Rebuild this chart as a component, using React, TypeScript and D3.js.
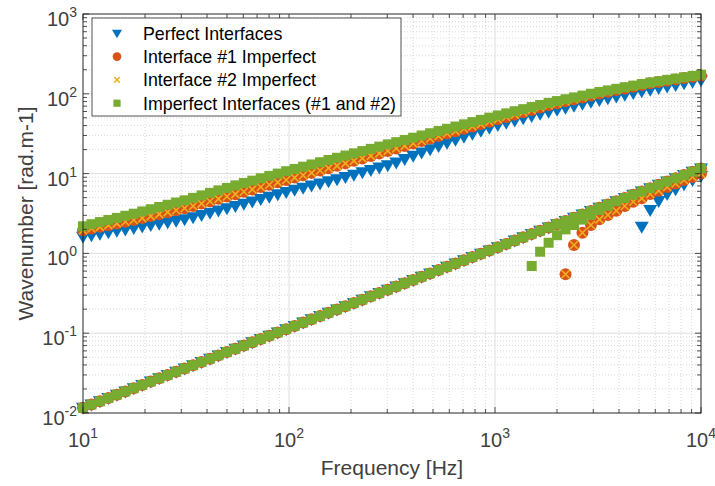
import { useEffect, useRef } from 'react';
import * as d3 from 'd3';

// frequency grid [Hz], log spaced
const freqs = [
  10.0, 10.99, 12.08, 13.28, 14.6, 16.05, 17.64, 19.39, 21.32, 23.44,
  25.76, 28.32, 31.13, 34.22, 37.62, 41.35, 45.46, 49.97, 54.93, 60.38,
  66.38, 72.96, 80.21, 88.17, 96.9, 106.5, 117.1, 128.7, 141.5, 155.5,
  171.0, 187.9, 206.6, 227.1, 249.6, 274.4, 301.6, 331.6, 364.5, 400.7,
  440.4, 484.1, 532.2, 585.0, 643.0, 706.8, 777.0, 854.1, 938.9, 1032,
  1134, 1247, 1371, 1507, 1656, 1821, 2001, 2200, 2418, 2658,
  2922, 3212, 3531, 3881, 4267, 4690, 5156, 5667, 6230, 6848,
  7528, 8275, 9097, 10000,
];

// upper branch, wavenumber [rad/m]
const perfectUpper = [
  1.622, 1.691, 1.763, 1.838, 1.916, 1.997, 2.082, 2.171, 2.263, 2.359,
  2.459, 2.564, 2.673, 2.84, 3.028, 3.23, 3.444, 3.674, 3.917, 4.19,
  4.485, 4.801, 5.14, 5.503, 5.89, 6.273, 6.665, 7.081, 7.522, 7.991,
  8.492, 9.064, 9.703, 10.38, 11.12, 11.9, 12.74, 13.82, 15.19, 16.7,
  18.36, 20.18, 22.18, 24.31, 26.53, 28.93, 31.56, 34.43, 37.57, 40.68,
  43.39, 46.26, 49.33, 52.61, 56.1, 59.72, 63.22, 66.91, 70.81, 74.95,
  79.35, 83.86, 88.09, 92.54, 97.21, 102.1, 107.3, 112.6, 117.9, 123.4,
  129.1, 135.1, 141.3, 147.9,
];

const imperfect1Upper = [
  1.95, 2.048, 2.151, 2.26, 2.374, 2.494, 2.62, 2.771, 2.933, 3.104,
  3.286, 3.477, 3.681, 3.933, 4.21, 4.507, 4.824, 5.164, 5.528, 5.918,
  6.335, 6.783, 7.261, 7.771, 8.321, 8.906, 9.535, 10.21, 10.93, 11.7,
  12.52, 13.43, 14.44, 15.51, 16.67, 17.91, 19.24, 20.69, 22.23, 23.88,
  25.66, 27.57, 29.64, 31.79, 34.03, 36.43, 39.01, 41.76, 44.71, 47.86,
  51.23, 54.83, 58.71, 62.84, 67.29, 71.81, 75.99, 80.43, 85.13, 90.11,
  95.39, 100.8, 105.9, 111.2, 116.9, 122.7, 128.9, 135.3, 140.5, 146.0,
  151.6, 157.4, 163.6, 169.8,
];

const imperfectBothUpper = [
  2.188, 2.325, 2.47, 2.624, 2.788, 2.961, 3.146, 3.355, 3.578, 3.815,
  4.069, 4.339, 4.628, 4.966, 5.337, 5.734, 6.163, 6.622, 7.116, 7.623,
  8.164, 8.738, 9.354, 10.01, 10.72, 11.44, 12.21, 13.02, 13.88, 14.81,
  15.79, 16.84, 17.96, 19.15, 20.42, 21.78, 23.23, 24.77, 26.42, 28.18,
  30.05, 32.04, 34.17, 36.44, 38.87, 41.45, 44.2, 47.13, 50.28, 53.56,
  56.89, 60.45, 64.21, 68.23, 72.5, 76.88, 81.06, 85.46, 90.11, 95.02,
  100.2, 105.5, 110.4, 115.5, 120.9, 126.6, 132.4, 138.5, 143.8, 149.4,
  155.1, 161.1, 167.4, 173.8,
];

// lower branch (same for every configuration)
const lowerBranch = [
  0.0116, 0.01275, 0.01401, 0.0154, 0.01694, 0.01862, 0.02046, 0.02249, 0.02473, 0.02719,
  0.02988, 0.03285, 0.03611, 0.0397, 0.04364, 0.04797, 0.05273, 0.05797, 0.06372, 0.07004,
  0.077, 0.08463, 0.09304, 0.1023, 0.1124, 0.1235, 0.1358, 0.1493, 0.1641, 0.1804,
  0.1984, 0.218, 0.2397, 0.2634, 0.2895, 0.3183, 0.3499, 0.3847, 0.4228, 0.4648,
  0.5109, 0.5616, 0.6174, 0.6786, 0.7459, 0.8199, 0.9013, 0.9908, 1.089, 1.197,
  1.315, 1.447, 1.59, 1.748, 1.921, 2.112, 2.321, 2.552, 2.805, 3.083,
  3.39, 3.726, 4.096, 4.502, 4.95, 5.44, 5.981, 6.574, 7.227, 7.944,
  8.732, 9.599, 10.55, 11.6,
];

// cut-on branches (start index in freqs + values)
const perfectCutOnStart = 66;
const perfectCutOn = [2.163, 3.499, 4.536, 5.546, 6.355, 7.345, 8.318, 9.333];

const imperfect1CutOnStart = 57;
const imperfect1CutOn = [
  0.547, 1.274, 1.816, 2.27, 2.673, 3.027, 3.428, 3.926, 4.446, 4.898,
  5.546, 6.109, 6.792, 7.516, 8.318, 9.057, 10.02,
];

const imperfectBothCutOnStart = 53;
const imperfectBothCutOn = [0.695, 1.05, 1.36, 1.69, 2.0, 2.27, 2.65, 3.05, 3.5, 3.95];

const legendLabels = [
  'Perfect Interfaces',
  'Interface #1 Imperfect',
  'Interface #2 Imperfect',
  'Imperfect Interfaces (#1 and #2)',
];

const xDecades = [1, 2, 3, 4];
const yDecades = [-2, -1, 0, 1, 2, 3];

const BLUE = '#0072BD';
const ORANGE = '#D95319';
const YELLOW = '#EDB120';
const GREEN = '#77AC30';
const AXIS = '#262626';

type Kind = 'tri' | 'circle' | 'x' | 'square';

export default function App() {
  const svgRef = useRef<SVGSVGElement>(null);

  useEffect(() => {
    if (!svgRef.current) return;
    const W = 715;
    const H = 486;
    const margin = { left: 83, right: 14, top: 14, bottom: 73 };

    const svg = d3.select(svgRef.current);
    svg.selectAll('*').remove();
    svg.attr('width', W).attr('height', H);

    const x = d3.scaleLog().domain([10, 1e4]).range([margin.left, W - margin.right]);
    const y = d3.scaleLog().domain([1e-2, 1e3]).range([H - margin.bottom, margin.top]);
    const [x0, x1] = x.range();
    const [y0, y1] = y.range(); // y0 bottom, y1 top

    svg.append('rect').attr('width', W).attr('height', H).attr('fill', '#fff');

    const minorX: number[] = [];
    xDecades.slice(0, -1).forEach((d) => {
      for (let m = 2; m <= 9; m++) minorX.push(m * Math.pow(10, d));
    });
    const minorY: number[] = [];
    yDecades.slice(0, -1).forEach((d) => {
      for (let m = 2; m <= 9; m++) minorY.push(m * Math.pow(10, d));
    });
    const majorX = xDecades.map((d) => Math.pow(10, d));
    const majorY = yDecades.map((d) => Math.pow(10, d));

    // Grid
    const grid = svg.append('g');
    grid.selectAll('.mgx').data(minorX).join('line')
      .attr('x1', (d) => x(d)).attr('x2', (d) => x(d))
      .attr('y1', y0).attr('y2', y1)
      .attr('stroke', '#c8c8c8').attr('stroke-width', 0.7).attr('stroke-dasharray', '1,2');
    grid.selectAll('.mgy').data(minorY).join('line')
      .attr('x1', x0).attr('x2', x1)
      .attr('y1', (d) => y(d)).attr('y2', (d) => y(d))
      .attr('stroke', '#c8c8c8').attr('stroke-width', 0.7).attr('stroke-dasharray', '1,2');
    grid.selectAll('.gx').data(majorX.slice(1, -1)).join('line')
      .attr('x1', (d) => x(d)).attr('x2', (d) => x(d))
      .attr('y1', y0).attr('y2', y1)
      .attr('stroke', '#dedede').attr('stroke-width', 1);
    grid.selectAll('.gy').data(majorY.slice(1, -1)).join('line')
      .attr('x1', x0).attr('x2', x1)
      .attr('y1', (d) => y(d)).attr('y2', (d) => y(d))
      .attr('stroke', '#dedede').attr('stroke-width', 1);

    // Markers
    const marks = svg.append('g');
    const drawSeries = (xs: number[], ys: number[], kind: Kind, color: string) => {
      const pts = xs.map((f, i) => [x(f), y(ys[i])] as [number, number]);
      const sel = marks.append('g').selectAll('g').data(pts).join('g')
        .attr('transform', (p) => `translate(${p[0]},${p[1]})`);
      addMarker(sel, kind, color, 1);
    };

    const series: { kind: Kind; color: string; upper: number[]; cut: number[]; start: number }[] = [
      { kind: 'tri', color: BLUE, upper: perfectUpper, cut: perfectCutOn, start: perfectCutOnStart },
      { kind: 'circle', color: ORANGE, upper: imperfect1Upper, cut: imperfect1CutOn, start: imperfect1CutOnStart },
      { kind: 'x', color: YELLOW, upper: imperfect1Upper, cut: imperfect1CutOn, start: imperfect1CutOnStart },
      { kind: 'square', color: GREEN, upper: imperfectBothUpper, cut: imperfectBothCutOn, start: imperfectBothCutOnStart },
    ];
    series.forEach((s) => {
      drawSeries(freqs, s.upper, s.kind, s.color);
      drawSeries(freqs, lowerBranch, s.kind, s.color);
      drawSeries(freqs.slice(s.start, s.start + s.cut.length), s.cut, s.kind, s.color);
    });

    // Axes box and ticks
    const ax = svg.append('g');
    ax.append('rect')
      .attr('x', x0).attr('y', y1).attr('width', x1 - x0).attr('height', y0 - y1)
      .attr('fill', 'none').attr('stroke', AXIS).attr('stroke-width', 1);
    const tick = (vals: number[], len: number) => {
      vals.forEach((v) => {
        const px = x(v);
        ax.append('line').attr('x1', px).attr('x2', px).attr('y1', y0).attr('y2', y0 - len)
          .attr('stroke', AXIS).attr('stroke-width', 0.8);
        ax.append('line').attr('x1', px).attr('x2', px).attr('y1', y1).attr('y2', y1 + len)
          .attr('stroke', AXIS).attr('stroke-width', 0.8);
      });
    };
    const tickY = (vals: number[], len: number) => {
      vals.forEach((v) => {
        const py = y(v);
        ax.append('line').attr('x1', x0).attr('x2', x0 + len).attr('y1', py).attr('y2', py)
          .attr('stroke', AXIS).attr('stroke-width', 0.8);
        ax.append('line').attr('x1', x1).attr('x2', x1 - len).attr('y1', py).attr('y2', py)
          .attr('stroke', AXIS).attr('stroke-width', 0.8);
      });
    };
    tick(majorX, 6);
    tick(minorX, 4);
    tickY(majorY, 6);
    tickY(minorY, 4);

    // Tick labels
    const font = 'Liberation Sans, Arial, Helvetica, sans-serif';
    xDecades.forEach((d) => {
      const t = ax.append('text')
        .attr('x', x(Math.pow(10, d))).attr('y', y0 + 34)
        .attr('text-anchor', 'middle').attr('font-family', font)
        .attr('font-size', 20).attr('fill', '#404040');
      t.append('tspan').text('10');
      t.append('tspan').attr('dy', -9).attr('font-size', 14).text(String(d));
    });
    yDecades.forEach((d) => {
      const t = ax.append('text')
        .attr('x', x0 - 6).attr('y', y(Math.pow(10, d)) + 12)
        .attr('text-anchor', 'end').attr('font-family', font)
        .attr('font-size', 20).attr('fill', '#404040');
      t.append('tspan').text('10');
      t.append('tspan').attr('dy', -9).attr('font-size', 14).text(String(d));
    });

    // Axis labels
    ax.append('text')
      .attr('x', (x0 + x1) / 2).attr('y', H - 11)
      .attr('text-anchor', 'middle').attr('font-family', font)
      .attr('font-size', 21).attr('fill', '#404040')
      .text('Frequency [Hz]');
    ax.append('text')
      .attr('transform', `translate(33,${(y0 + y1) / 2}) rotate(-90)`)
      .attr('text-anchor', 'middle').attr('font-family', font)
      .attr('font-size', 21).attr('fill', '#404040')
      .text('Wavenumber [rad.m-1]');

    // Legend
    const lg = svg.append('g');
    lg.append('rect').attr('x', 92).attr('y', 18).attr('width', 309).attr('height', 98)
      .attr('fill', '#fff').attr('stroke', AXIS).attr('stroke-width', 0.8);
    series.forEach((s, i) => {
      const cy = 33.3 + i * 23.3;
      const g = lg.append('g').selectAll('g').data([0]).join('g')
        .attr('transform', `translate(117,${cy})`);
      addMarker(g, s.kind, s.color, 0.72);
      lg.append('text').attr('x', 143).attr('y', cy + 6.4)
        .attr('font-family', font).attr('font-size', 17.8).attr('fill', '#000')
        .text(legendLabels[i]);
    });
  }, []);

  return (
    <svg ref={svgRef} style={{ position: 'fixed', left: 0, top: 0, display: 'block' }} />
  );
}

function addMarker(sel: any, kind: Kind, color: string, s: number) {
  if (kind === 'tri') {
    const w = 7 * s;
    sel.append('path')
      .attr('d', `M${-w},${-5 * s}L${w},${-5 * s}L0,${7 * s}Z`)
      .attr('fill', color);
  } else if (kind === 'circle') {
    sel.append('circle').attr('r', 6 * s).attr('fill', color);
  } else if (kind === 'square') {
    const h = 5 * s;
    sel.append('rect').attr('x', -h).attr('y', -h).attr('width', 2 * h).attr('height', 2 * h)
      .attr('fill', color);
  } else {
    const a = 4 * s;
    sel.append('path')
      .attr('d', `M${-a},${-a}L${a},${a}M${-a},${a}L${a},${-a}`)
      .attr('stroke', color).attr('stroke-width', 1.6).attr('fill', 'none');
  }
}
